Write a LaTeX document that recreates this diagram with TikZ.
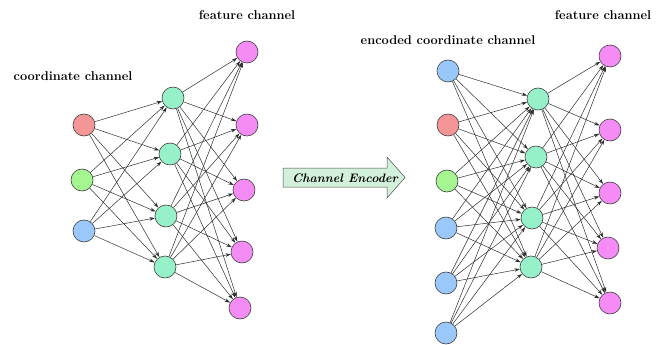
\documentclass[tikz,border=0pt]{standalone}
\usetikzlibrary{arrows.meta}
\definecolor{cred}{RGB}{245,150,150}
\definecolor{cgreen}{RGB}{165,245,145}
\definecolor{cblue}{RGB}{155,200,250}
\definecolor{cmint}{RGB}{150,240,200}
\definecolor{cviolet}{RGB}{245,140,245}
\definecolor{cedge}{RGB}{45,45,45}
\definecolor{carrow}{RGB}{210,240,218}
\begin{document}
\begin{tikzpicture}[x=1pt,y=-1pt,
  neuron/.style={circle,draw=black!75,line width=0.6pt,minimum size=22pt,inner sep=0pt},
  conn/.style={draw=cedge,line width=0.5pt,-{Stealth[length=5.5pt,width=3.5pt]}},
  lbl/.style={font=\fontsize{12.8}{15}\selectfont\bfseries,inner sep=0pt}]
\useasboundingbox (0,0) rectangle (667,345);
% left network
\node[neuron,fill=cred] (a1) at (84,125) {};
\node[neuron,fill=cgreen] (a2) at (82,180) {};
\node[neuron,fill=cblue] (a3) at (84,231) {};
\node[neuron,fill=cmint] (b1) at (173,98) {};
\node[neuron,fill=cmint] (b2) at (170,154) {};
\node[neuron,fill=cmint] (b3) at (166,216) {};
\node[neuron,fill=cmint] (b4) at (165,267) {};
\node[neuron,fill=cviolet] (c1) at (247,52) {};
\node[neuron,fill=cviolet] (c2) at (247,125) {};
\node[neuron,fill=cviolet] (c3) at (244,190) {};
\node[neuron,fill=cviolet] (c4) at (242,252) {};
\node[neuron,fill=cviolet] (c5) at (240,308) {};
\foreach \i in {1,2,3}{\foreach \j in {1,2,3,4}{\draw[conn] (a\i) -- (b\j);}}
\foreach \i in {1,2,3,4}{\foreach \j in {1,2,3,4,5}{\draw[conn] (b\i) -- (c\j);}}
\node[lbl] (lt1) at (73,76) {coordinate channel};
\node[lbl] (lt2) at (247,15) {feature channel};
% right network
\node[neuron,fill=cblue] (d1) at (448,71) {};
\node[neuron,fill=cred] (d2) at (448,125) {};
\node[neuron,fill=cgreen] (d3) at (447,181) {};
\node[neuron,fill=cblue] (d4) at (446,228) {};
\node[neuron,fill=cblue] (d5) at (446,283) {};
\node[neuron,fill=cblue] (d6) at (446,333) {};
\node[neuron,fill=cmint] (e1) at (538,99) {};
\node[neuron,fill=cmint] (e2) at (536,157) {};
\node[neuron,fill=cmint] (e3) at (532,218) {};
\node[neuron,fill=cmint] (e4) at (531,267) {};
\node[neuron,fill=cviolet] (f1) at (610,56) {};
\node[neuron,fill=cviolet] (f2) at (610,130) {};
\node[neuron,fill=cviolet] (f3) at (610,193) {};
\node[neuron,fill=cviolet] (f4) at (608,248) {};
\node[neuron,fill=cviolet] (f5) at (610,303) {};
\foreach \i in {1,...,6}{\foreach \j in {1,2,3,4}{\draw[conn] (d\i) -- (e\j);}}
\foreach \i in {1,2,3,4}{\foreach \j in {1,2,3,4,5}{\draw[conn] (e\i) -- (f\j);}}
\node[lbl] (rt1) at (448,40) {encoded coordinate channel};
\node[lbl] (rt2) at (603,15) {feature channel};
% channel encoder arrow
\draw[fill=carrow,draw=black!70,line width=0.5pt] (283,168) -- (387,168) -- (387,157) -- (405,177.5) -- (387,198) -- (387,187) -- (283,187) -- cycle;
\node[font=\fontsize{12.3}{14}\selectfont\bfseries\itshape,inner sep=0pt] (enc) at (345,178) {Channel Encoder};
\end{tikzpicture}
\end{document}
